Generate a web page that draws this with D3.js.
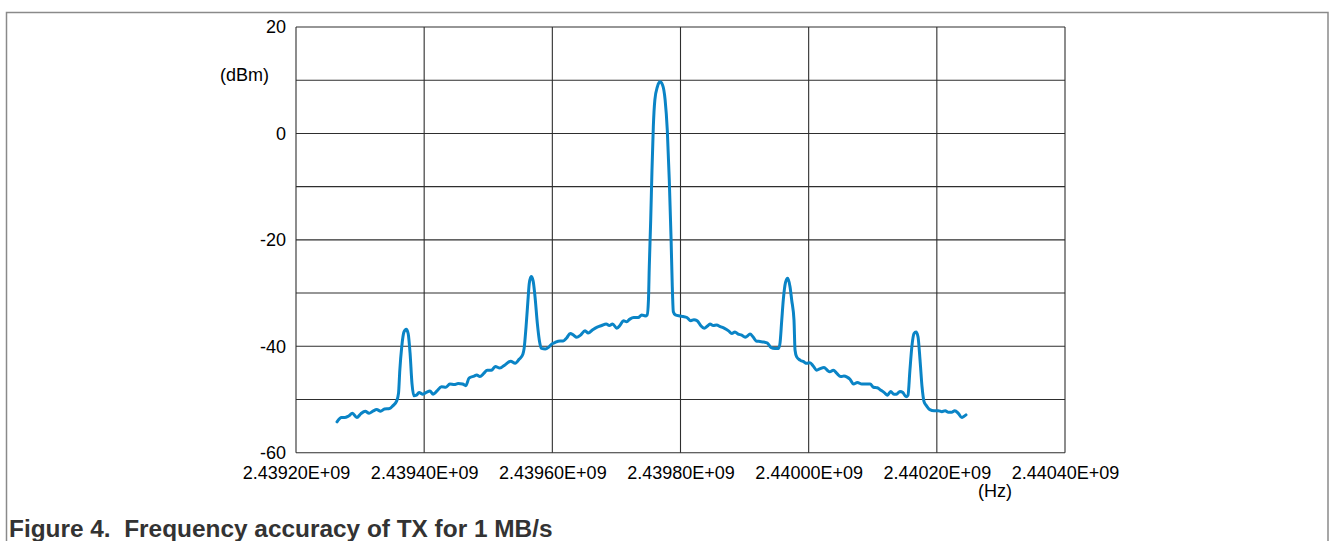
<!DOCTYPE html>
<html>
<head>
<meta charset="utf-8">
<script src="https://cdn.jsdelivr.net/npm/d3@7"></script>
<style>
  html, body { margin: 0; padding: 0; background: #fff; }
  svg { display: block; }
</style>
</head>
<body>
<svg id="chart" width="1330" height="541"></svg>
<script>
// Spectrum trace: frequency (Hz) and measured power (dBm)
const freqHz = [
  2439264000, 2439271000, 2439276000, 2439282000, 2439288000, 2439295000, 2439301000, 2439308000,
  2439314000, 2439320000, 2439326000, 2439332000, 2439338000, 2439346000, 2439351000, 2439357000,
  2439360000, 2439362000, 2439365000, 2439368500, 2439372000, 2439375000, 2439378000, 2439381000,
  2439384000, 2439388000, 2439392000, 2439398000, 2439404000, 2439409000, 2439414000, 2439420000,
  2439427000, 2439434000, 2439440000, 2439447000, 2439453000, 2439460000, 2439465000, 2439470000,
  2439478000, 2439482000, 2439487000, 2439493000, 2439498500, 2439505000, 2439511000, 2439518000,
  2439526000, 2439535000, 2439542000, 2439548500, 2439554000, 2439556000, 2439559000, 2439562000,
  2439564000, 2439567000, 2439570000, 2439573000, 2439576600, 2439580000, 2439583000, 2439589000,
  2439594000, 2439599000, 2439604000, 2439612000, 2439617000, 2439622000, 2439628000, 2439633000,
  2439638000, 2439644000, 2439651000, 2439656000, 2439663000, 2439670000, 2439677000, 2439684000,
  2439689000, 2439694000, 2439700500, 2439706000, 2439711000, 2439716000, 2439721000, 2439727000,
  2439734000, 2439739500, 2439745000, 2439748000, 2439750000, 2439751300, 2439753500, 2439755500,
  2439757600, 2439760000, 2439764000, 2439768000, 2439772000, 2439776000, 2439779400, 2439782500,
  2439785200, 2439787200, 2439788800, 2439792000, 2439799000, 2439804000, 2439810000, 2439816000,
  2439821000, 2439826000, 2439831500, 2439837000, 2439842000, 2439846000, 2439851000, 2439856500,
  2439862000, 2439868000, 2439875000, 2439880000, 2439885000, 2439890000, 2439895500, 2439901000,
  2439904000, 2439908500, 2439913000, 2439918000, 2439924000, 2439930000, 2439935500, 2439941000,
  2439947500, 2439953000, 2439955300, 2439958000, 2439960400, 2439963900, 2439967300, 2439970900,
  2439973500, 2439977100, 2439978700, 2439981300, 2439986500, 2439992000, 2439997000, 2440002000,
  2440007000, 2440012500, 2440018000, 2440024000, 2440029000, 2440033000, 2440038500, 2440044000,
  2440050000, 2440055000, 2440060000, 2440064500, 2440070000, 2440076000, 2440083000, 2440089500,
  2440096000, 2440101000, 2440107000, 2440112000, 2440118000, 2440123000, 2440128000, 2440133000,
  2440137000, 2440142500, 2440147000, 2440152000, 2440155000, 2440158000, 2440161000, 2440164400,
  2440167500, 2440170600, 2440173800, 2440176900, 2440180000, 2440184000, 2440189000, 2440195600,
  2440202000, 2440208000, 2440213000, 2440218000, 2440223000, 2440228000, 2440233500, 2440239000,
  2440242000, 2440245500
];
const powerDbm = [
  -54.2, -53.4, -53.4, -53.1, -52.6, -53.4, -52.7, -52.2,
  -52.6, -52.2, -51.9, -52.2, -51.8, -51.7, -51.2, -50.3,
  -48.8, -44.5, -40.1, -37.3, -36.8, -37.6, -41.3, -47.0,
  -49.3, -49.2, -48.7, -49.0, -48.6, -48.4, -49.0, -48.4,
  -47.6, -47.7, -47.1, -47.2, -47.0, -47.1, -47.4, -46.0,
  -45.6, -45.4, -45.7, -45.1, -44.5, -44.5, -43.8, -44.1,
  -43.5, -42.8, -43.2, -42.4, -41.5, -40.4, -36.3, -31.3,
  -28.2, -26.9, -27.7, -30.7, -35.7, -39.1, -40.4, -40.5,
  -40.2, -39.6, -39.3, -39.0, -39.0, -38.5, -37.6, -37.9,
  -38.3, -37.9, -37.1, -37.5, -36.9, -36.4, -36.1, -35.8,
  -36.1, -35.8, -36.6, -36.0, -35.2, -35.4, -34.9, -34.6,
  -34.6, -34.1, -34.3, -34.1, -31.3, -25.0, -16.3, -6.9,
  1.3, 6.3, 8.8, 9.7, 9.1, 6.3, 0.6, -8.8,
  -19.4, -28.8, -33.5, -34.1, -34.3, -34.4, -34.6, -35.2,
  -35.0, -35.2, -36.1, -36.6, -36.2, -35.8, -36.1, -36.0,
  -36.3, -36.6, -37.1, -37.6, -37.3, -37.7, -37.9, -38.3,
  -38.1, -37.7, -38.2, -39.0, -39.1, -39.2, -39.4, -40.2,
  -40.4, -40.4, -39.4, -35.1, -31.3, -28.0, -27.2, -28.8,
  -31.3, -35.1, -40.7, -42.0, -42.6, -42.9, -43.2, -43.1,
  -43.7, -44.5, -44.2, -44.0, -44.5, -44.8, -44.5, -45.1,
  -45.7, -45.6, -45.8, -46.2, -47.1, -46.8, -47.1, -47.1,
  -47.1, -47.7, -47.8, -48.2, -48.7, -49.2, -48.5, -49.0,
  -49.0, -48.5, -48.7, -49.5, -49.2, -44.5, -40.1, -37.6,
  -37.3, -38.2, -42.6, -47.6, -50.4, -51.2, -51.9, -52.1,
  -52.1, -52.3, -52.1, -52.4, -52.4, -52.1, -52.6, -53.4,
  -53.2, -52.9
];

// Axis ticks
const xTicks = [2439200000, 2439400000, 2439600000, 2439800000, 2440000000, 2440200000, 2440400000];
const yGridTicks = [20, 10, 0, -10, -20, -30, -40, -50, -60];
const yLabelTicks = [20, 0, -20, -40, -60];

const FONT = "'Liberation Sans', Arial, Helvetica, sans-serif";
const svg = d3.select("#chart");

// Outer figure frame
svg.append("rect")
  .attr("x", 6.5).attr("y", 12.5)
  .attr("width", 1321.5).attr("height", 600)
  .attr("fill", "none").attr("stroke", "#8a8a8a").attr("stroke-width", 1.5);

const plot = { left: 296, right: 1065, top: 27, bottom: 452.7 };

const x = d3.scaleLinear().domain([xTicks[0], xTicks[xTicks.length - 1]]).range([plot.left, plot.right]);
const y = d3.scaleLinear().domain([-60, 20]).range([plot.bottom, plot.top]);

// Grid
const grid = svg.append("g").attr("stroke", "#2e2e2e").attr("stroke-width", 1.1);
grid.selectAll("line.h").data(yGridTicks).join("line")
  .attr("class", "h")
  .attr("x1", plot.left).attr("x2", plot.right)
  .attr("y1", d => y(d)).attr("y2", d => y(d));
grid.selectAll("line.v").data(xTicks).join("line")
  .attr("class", "v")
  .attr("y1", plot.top).attr("y2", plot.bottom)
  .attr("x1", d => x(d)).attr("x2", d => x(d));

// Axes (labels only; grid drawn above)
const xAxis = svg.append("g")
  .attr("transform", `translate(0,${plot.bottom})`)
  .call(d3.axisBottom(x).tickValues(xTicks).tickSize(0).tickPadding(14)
    .tickFormat(d => (d / 1e9).toFixed(5) + "E+09"));
xAxis.select(".domain").remove();
xAxis.selectAll("text").attr("font-size", 18).attr("font-family", FONT).attr("fill", "#000");

const yAxis = svg.append("g")
  .attr("transform", `translate(${plot.left},0)`)
  .call(d3.axisLeft(y).tickValues(yLabelTicks).tickSize(0).tickPadding(10)
    .tickFormat(d => String(d)));
yAxis.select(".domain").remove();
yAxis.selectAll("text").attr("font-size", 18).attr("font-family", FONT).attr("fill", "#000");

// Unit labels
svg.append("text").attr("x", 269).attr("y", 81)
  .attr("text-anchor", "end").attr("font-size", 18).attr("font-family", FONT)
  .text("(dBm)");
svg.append("text").attr("x", 995).attr("y", 497)
  .attr("text-anchor", "middle").attr("font-size", 18).attr("font-family", FONT)
  .text("(Hz)");

// Trace
const trace = freqHz.map((f, i) => ({ f, p: powerDbm[i] }));
svg.append("path")
  .datum(trace)
  .attr("fill", "none")
  .attr("stroke", "#0a84c6")
  .attr("stroke-width", 3)
  .attr("stroke-linejoin", "round")
  .attr("stroke-linecap", "round")
  .attr("d", d3.line().x(d => x(d.f)).y(d => y(d.p)).curve(d3.curveMonotoneX));

// Caption
svg.append("text")
  .attr("x", 9).attr("y", 537)
  .attr("font-size", 24.4).attr("font-weight", "bold").attr("font-family", FONT)
  .attr("fill", "#333")
  .style("white-space", "pre")
  .text("Figure 4.  Frequency accuracy of TX for 1 MB/s");
</script>
</body>
</html>
